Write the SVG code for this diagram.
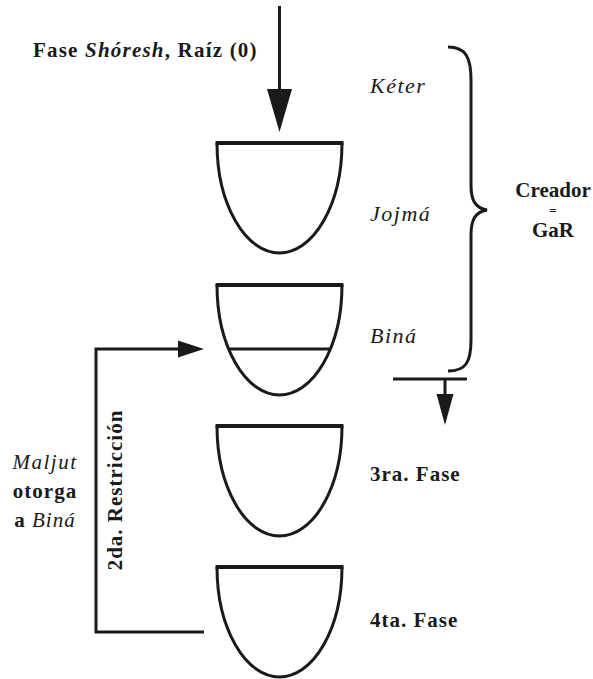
<svg xmlns="http://www.w3.org/2000/svg" width="593" height="679" viewBox="0 0 593 679">
<style>
.t{font-family:'Liberation Serif','DejaVu Serif',serif;font-size:21px;fill:#1a1a1a;letter-spacing:1px}
.b{font-weight:bold}
.i{font-style:italic}
.ln{stroke:#1a1a1a;stroke-width:3;fill:none}
.bar{stroke:#1a1a1a;stroke-width:4;fill:none}
.ah{fill:#1a1a1a}
</style>
<defs>
<g id="vessel">
<path class="ln" d="M217,0 A62.5,110 0 0 0 342,0"/>
<line class="bar" x1="215.5" y1="0" x2="343.5" y2="0"/>
</g>
</defs>
<rect width="593" height="679" fill="#fff"/>
<g id="connectors">
<line class="ln" x1="279.5" y1="6" x2="279.5" y2="92"/>
<polygon class="ah" points="267,89 292,89 279.5,132"/>
<path class="ln" d="M204,632 H96 V349 H180"/>
<polygon class="ah" points="178,340.5 204,349 178,357.5"/>
<line class="ln" x1="393" y1="379" x2="467" y2="379"/>
<line class="ln" x1="445" y1="379" x2="445" y2="396"/>
<polygon class="ah" points="436.5,394 453.5,394 445,425"/>
<path class="ln" stroke-width="2.5" d="M448,47 C466,47 471,58 471,80 L471,185 C471,200 475,208 487,210 C475,212 471,220 471,235 L471,340 C471,362 466,371 448,371"/>
</g>
<g id="label-root"><text class="t b" x="33" y="57" style="letter-spacing:1.2px">Fase <tspan class="i">Shóresh</tspan>, Raíz (0)</text></g>
<g id="vessel-keter-jojma"><use href="#vessel" y="143"/></g>
<g id="vessel-bina"><use href="#vessel" y="285"/><line class="ln" x1="229" y1="349" x2="330" y2="349"/></g>
<g id="vessel-3"><use href="#vessel" y="426"/></g>
<g id="vessel-4"><use href="#vessel" y="567"/></g>
<g id="labels">
<text class="t i" x="370" y="93" style="font-size:22px;letter-spacing:1.5px">Kéter</text>
<text class="t i" x="370" y="221" style="font-size:22px;letter-spacing:1.5px">Jojmá</text>
<text class="t i" x="370" y="343" style="font-size:22px;letter-spacing:1.5px">Biná</text>
<text class="t b" x="370" y="481">3ra. Fase</text>
<text class="t b" x="370" y="627">4ta. Fase</text>
</g>
<g id="label-creador" text-anchor="middle">
<text class="t b" x="553" y="197" style="letter-spacing:0">Creador</text>
<text class="t b" x="553" y="215" style="letter-spacing:0;font-size:13px">=</text>
<text class="t b" x="553" y="237" style="letter-spacing:0">GaR</text>
</g>
<g id="label-maljut" text-anchor="middle">
<text class="t i" x="45" y="469" style="letter-spacing:1.5px">Maljut</text>
<text class="t b" x="45" y="498">otorga</text>
<text class="t b" x="45" y="527">a <tspan class="i" style="font-weight:normal">Biná</tspan></text>
</g>
<g id="label-restriccion"><text class="t b" transform="translate(122,490) rotate(-90)" text-anchor="middle">2da. Restricción</text></g>
</svg>
